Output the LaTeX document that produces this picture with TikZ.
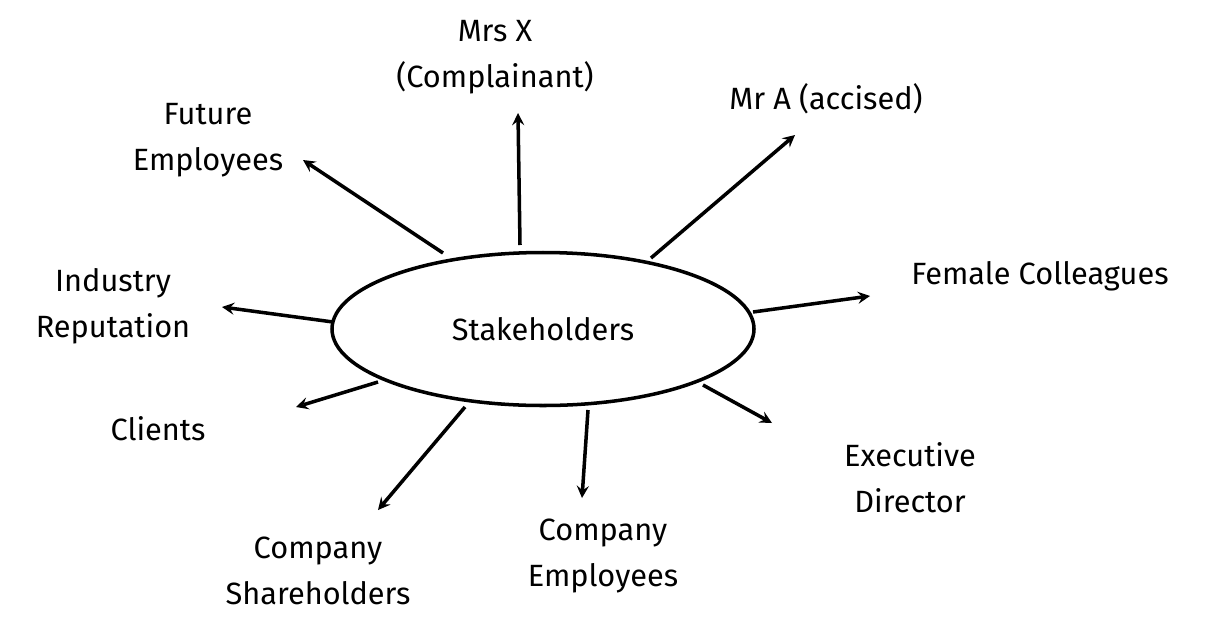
\documentclass[tikz,border=0pt]{standalone}
\usepackage{fontspec}
\setmainfont{Fira Sans}
\usetikzlibrary{positioning,shapes.geometric,arrows}

\begin{document}
\begin{tikzpicture}[
x=0.02cm,y=-0.02cm,
>=stealth,
hub/.style={
	ellipse,
	draw,
	line width=2pt,
	minimum width=422*0.02cm,
	minimum height=153*0.02cm,
	font=\fontsize{17.5}{26}\selectfont
},
party/.style={
	align=center,
	font=\fontsize{17.5}{26}\selectfont
},
link/.style={
	->,
	line width=2pt
}
]
\useasboundingbox (0,0) rectangle (1210,626);
\node[hub] (st) at (543,329) {Stakeholders};

\node[party] (mrsx) at (495,57) {Mrs X\\(Complainant)};
\node[party] (mra) at (826,99) {Mr A (accised)};
\node[party] (fut) at (208,140) {Future\\Employees};
\node[party] (ind) at (113,306) {Industry\\Reputation};
\node[party] (fem) at (1040,276) {Female Colleagues};
\node[party] (cli) at (158,429) {Clients};
\node[party] (exe) at (910,478) {Executive\\Director};
\node[party] (sha) at (318,571) {Company\\Shareholders};
\node[party] (emp) at (603,556) {Company\\Employees};

% arrow ends
\foreach \n/\sx/\sy/\tx/\ty in {1/520/245/518/113, 2/651/258/795/135,
	3/443/253/303/160, 4/333/322/222/307, 5/753/312/870/296,
	6/378/382/296/407, 7/703/385/772/423, 8/465/407/378/510,
	9/588/410/582/498}
{
	\coordinate (s\n) at (\sx,\sy);
	\coordinate (t\n) at (\tx,\ty);
	\draw[link] (s\n) -- (t\n);
}
\end{tikzpicture}
\end{document}
